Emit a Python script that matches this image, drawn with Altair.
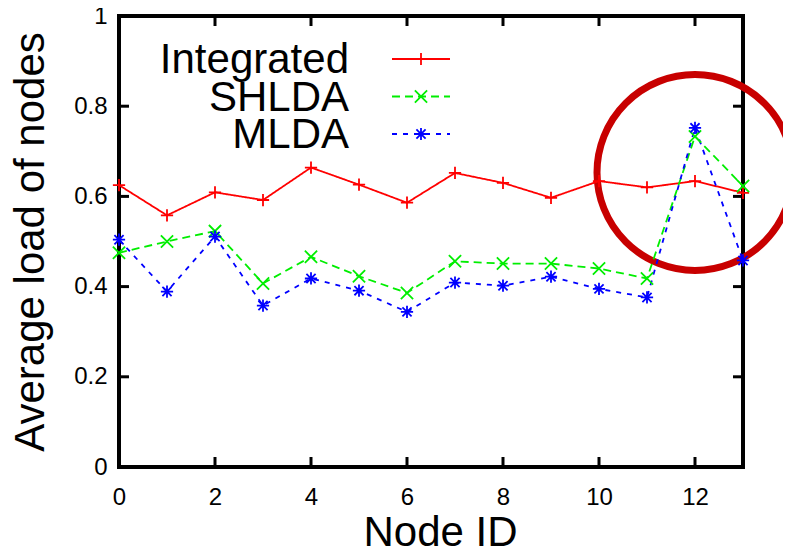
import altair as alt
import pandas as pd

nodes = list(range(14))
integrated = [0.625, 0.558, 0.609, 0.592, 0.664, 0.626, 0.586, 0.652, 0.630, 0.597, 0.634, 0.620, 0.634, 0.608]
shlda = [0.475, 0.500, 0.523, 0.407, 0.466, 0.423, 0.386, 0.456, 0.451, 0.451, 0.440, 0.418, 0.733, 0.623]
mlda = [0.504, 0.389, 0.511, 0.358, 0.418, 0.391, 0.344, 0.409, 0.402, 0.422, 0.395, 0.376, 0.752, 0.458]

names = ["Integrated", "SHLDA", "MLDA"]
colors = ["#ff0000", "#00ee00", "#0000ff"]
dashes = [[1, 0], [8, 5], [5, 6]]
shapes = [
    "M-1,0L1,0M0,-1L0,1",
    "M-1,-1L1,1M-1,1L1,-1",
    "M-1,0L1,0M0,-1L0,1M-0.75,-0.75L0.75,0.75M-0.75,0.75L0.75,-0.75",
]

x_ticks = [0, 2, 4, 6, 8, 10, 12]
y_ticks = [0, 0.2, 0.4, 0.6, 0.8, 1.0]

circle_node = [12]
circle_value = [0.653]

FONT = "Liberation Sans, Arial, sans-serif"
W, H = 624, 451
TK = 10  # inward tick length

rows = []
for name, vals in zip(names, [integrated, shlda, mlda]):
    for n, v in zip(nodes, vals):
        rows.append({"node": n, "value": v, "series": name})
df = pd.DataFrame(rows)

xs = alt.Scale(domain=[0, 13], nice=False, zero=False)
ys = alt.Scale(domain=[0, 1], nice=False)

x_main = alt.X(
    "node:Q", scale=xs,
    axis=alt.Axis(
        values=x_ticks, title="Node ID", labelFont=FONT, titleFont=FONT,
        labelFontSize=24, titleFontSize=42, titleFontWeight="normal",
        labelColor="black", titleColor="black", labelPadding=18,
        ticks=False, tickSize=0, domain=False, grid=False,
        titleX=321, titleY=78, titleAlign="center", titleBaseline="alphabetic",
        labelFlush=False,
    ),
)
y_main = alt.Y(
    "value:Q", scale=ys,
    axis=alt.Axis(
        values=y_ticks, format=".1~f", title="Average load of nodes",
        labelFont=FONT, titleFont=FONT, labelFontSize=24, titleFontSize=42,
        titleFontWeight="normal", labelColor="black", titleColor="black",
        labelPadding=12, ticks=False, tickSize=0, domain=False, grid=False,
        titleX=-76, titleY=H / 2, titleAngle=-90, titleAlign="center",
        titleBaseline="alphabetic", labelFlush=False,
    ),
)

color_enc = alt.Color("series:N", scale=alt.Scale(domain=names, range=colors), legend=None)

circle = alt.Chart(pd.DataFrame({"node": circle_node, "value": circle_value})).mark_point(
    shape="circle", size=196 * 196, filled=False, stroke="#c80000", strokeWidth=7, opacity=1
).encode(x=x_main, y=y_main)

lines = alt.Chart(df).mark_line(strokeWidth=1.8).encode(
    x=x_main, y=y_main, color=color_enc,
    strokeDash=alt.StrokeDash("series:N", scale=alt.Scale(domain=names, range=dashes), legend=None),
    detail="series:N",
)

points = alt.Chart(df).mark_point(filled=False, size=150, strokeWidth=1.8, opacity=1).encode(
    x=x_main, y=y_main, color=color_enc,
    shape=alt.Shape("series:N", scale=alt.Scale(domain=names, range=shapes), legend=None),
)

# inward tick marks on all four sides
xt = pd.DataFrame({"node": x_ticks})
yt = pd.DataFrame({"value": y_ticks})
tick_layers = [
    alt.Chart(xt).mark_rule(color="black", strokeWidth=3).encode(x=x_main, y=alt.value(0), y2=alt.value(TK)),
    alt.Chart(xt).mark_rule(color="black", strokeWidth=3).encode(x=x_main, y=alt.value(H - TK), y2=alt.value(H)),
    alt.Chart(yt).mark_rule(color="black", strokeWidth=3).encode(y=y_main, x=alt.value(0), x2=alt.value(TK)),
    alt.Chart(yt).mark_rule(color="black", strokeWidth=3).encode(y=y_main, x=alt.value(W - TK), x2=alt.value(W)),
]

layers = tick_layers + [circle, lines, points]

one = pd.DataFrame({"k": [0]})
for i, (name, col, dash, shp) in enumerate(zip(names, colors, dashes, shapes)):
    ty = 57 + i * 37.5
    ly = 43 + i * 37.5
    layers.append(
        alt.Chart(one).mark_text(
            text=name, font=FONT, fontSize=42, align="right", baseline="alphabetic", color="black"
        ).encode(x=alt.value(230), y=alt.value(ty))
    )
    layers.append(
        alt.Chart(one).mark_rule(color=col, strokeWidth=1.8, strokeDash=dash).encode(
            x=alt.value(273), x2=alt.value(331), y=alt.value(ly)
        )
    )
    layers.append(
        alt.Chart(one).mark_point(
            shape=shp, size=150, filled=False, stroke=col, strokeWidth=1.8, opacity=1
        ).encode(x=alt.value(302), y=alt.value(ly))
    )

chart = alt.layer(*layers).properties(
    width=W, height=H,
    autosize=alt.AutoSizeParams(type="none"),
    padding={"left": 111, "top": 8, "right": 40, "bottom": 80},
    background="white",
).configure_view(stroke="black", strokeWidth=4)

chart.save("out.html", embed_options={"renderer": "svg", "actions": False})
